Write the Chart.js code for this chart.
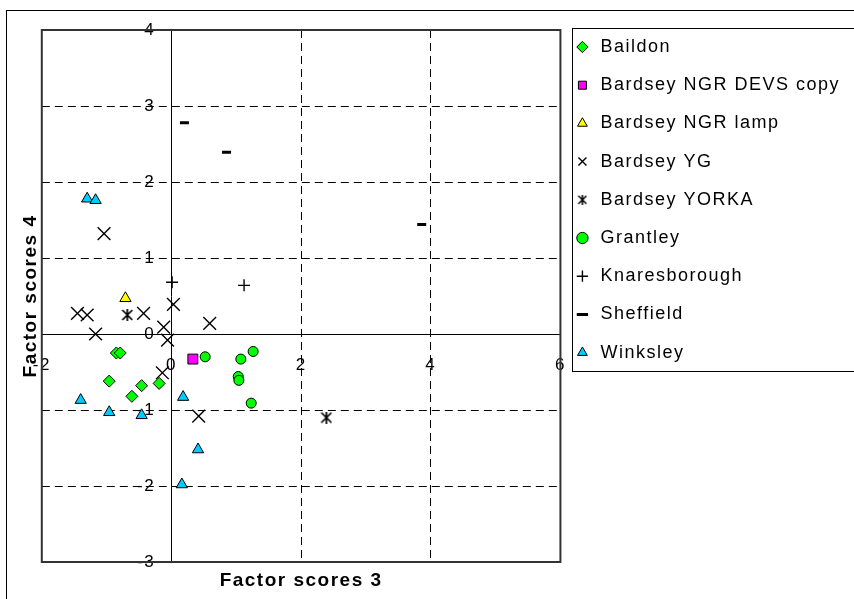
<!DOCTYPE html>
<html>
<head>
<meta charset="utf-8">
<script src="https://cdn.jsdelivr.net/npm/chart.js@4.4.1/dist/chart.umd.min.js"></script>
<style>
  html, body { margin: 0; padding: 0; background: #fff; }
  canvas { display: block; }
</style>
</head>
<body>
<canvas id="scoreChart" width="854" height="599"></canvas>
<script>
// factor scores per site, [score 3, score 4]
const seriesNames = ['Baildon', 'Bardsey NGR DEVS copy', 'Bardsey NGR lamp', 'Bardsey YG',
  'Bardsey YORKA', 'Grantley', 'Knaresborough', 'Sheffield', 'Winksley'];

const baildon = [[-0.85, -0.25], [-0.79, -0.25], [-0.96, -0.62], [-0.46, -0.68], [-0.19, -0.65], [-0.61, -0.82]];
const devsCopy = [[0.33, -0.33]];
const ngrLamp = [[-0.71, 0.47]];
const bardseyYG = [[-1.04, 1.32], [-1.45, 0.27], [-1.30, 0.25], [-1.17, 0.0], [-0.43, 0.27], [0.03, 0.39],
  [-0.12, 0.09], [-0.06, -0.08], [0.59, 0.14], [-0.14, -0.51], [0.42, -1.08]];
const yorka = [[-0.68, 0.25], [2.39, -1.10]];
const grantley = [[0.52, -0.30], [1.07, -0.33], [1.26, -0.23], [1.03, -0.56], [1.04, -0.61], [1.23, -0.91]];
const knaresborough = [[0.01, 0.68], [1.12, 0.64]];
const sheffield = [[0.20, 2.78], [0.85, 2.39], [3.86, 1.44]];
const winksley = [[-1.30, 1.78], [-1.17, 1.76], [-1.40, -0.87], [-0.96, -1.03], [-0.46, -1.07], [0.18, -0.83],
  [0.41, -1.52], [0.16, -1.98]];

const xTicks = [-2, 0, 2, 4, 6];
const yTicks = [-3, -2, -1, 0, 1, 2, 3, 4];

Chart.defaults.font.family = "'Liberation Sans', Arial, sans-serif";
Chart.defaults.color = '#000';

// asterisk marker: an X with a vertical bar through it
function asterisk(size, lw) {
  const c = document.createElement('canvas');
  c.width = size; c.height = size;
  const g = c.getContext('2d');
  g.strokeStyle = '#000';
  g.lineWidth = lw;
  const m = 1, h = size / 2;
  g.beginPath();
  g.moveTo(m, m); g.lineTo(size - m, size - m);
  g.moveTo(size - m, m); g.lineTo(m, size - m);
  g.moveTo(h, 0); g.lineTo(h, size);
  g.stroke();
  return c;
}
const starBig = asterisk(12, 1.7);
const starSmall = asterisk(10, 1.5);

const toPoints = arr => arr.map(p => ({ x: p[0], y: p[1] }));

const markers = [
  { data: baildon, pointStyle: 'rectRot', radius: 6, bg: '#00ff00', bw: 1 },
  { data: devsCopy, pointStyle: 'rect', radius: 7, bg: '#ff00ff', bw: 1 },
  { data: ngrLamp, pointStyle: 'triangle', radius: 6.5, bg: '#ffff00', bw: 1 },
  { data: bardseyYG, pointStyle: 'crossRot', radius: 9, bg: '#000', bw: 1.4 },
  { data: yorka, pointStyle: starBig, radius: 6, bg: '#000', bw: 1.4 },
  { data: grantley, pointStyle: 'circle', radius: 5, bg: '#00ff00', bw: 1 },
  { data: knaresborough, pointStyle: 'cross', radius: 6, bg: '#000', bw: 1.4 },
  { data: sheffield, pointStyle: 'line', radius: 4.5, bg: '#000', bw: 3 },
  { data: winksley, pointStyle: 'triangle', radius: 6.5, bg: '#00ccff', bw: 1 }
];

const datasets = markers.map((m, i) => ({
  label: seriesNames[i],
  data: toPoints(m.data),
  pointStyle: m.pointStyle,
  pointRadius: m.radius,
  pointHoverRadius: m.radius,
  backgroundColor: m.bg,
  borderColor: '#000',
  borderWidth: m.bw,
  pointBorderWidth: m.bw
}));

const gridColor = c => {
  const v = c.tick.value;
  return (v === 0 || v === c.scale.min || v === c.scale.max) ? 'rgba(0,0,0,0)' : '#000';
};

// wider glyph spacing, closer to the spreadsheet rendering
const spacing = {
  id: 'spacing',
  beforeUpdate(chart) { chart.ctx.letterSpacing = '1.5px'; },
  beforeDraw(chart) { chart.ctx.letterSpacing = '1.5px'; }
};

// outer frame, plot box and legend box
const frames = {
  id: 'frames',
  beforeDraw(chart) {
    const ctx = chart.ctx;
    ctx.save();
    ctx.strokeStyle = '#000';
    ctx.lineWidth = 1;
    ctx.strokeRect(6.5, 10.5, chart.width + 20, chart.height + 20);
    ctx.restore();
  },
  beforeDatasetsDraw(chart) {
    const { ctx, chartArea: a, legend } = chart;
    ctx.save();
    ctx.strokeStyle = '#333';
    ctx.lineWidth = 2;
    ctx.strokeRect(a.left, a.top, a.right - a.left, a.bottom - a.top);
    ctx.lineWidth = 1;
    ctx.strokeStyle = '#000';
    const lx = Math.round(legend.left + 12) + 0.5;
    const ly = Math.round(legend.top + 3) + 0.5;
    ctx.strokeRect(lx, ly, chart.width, 343);
    ctx.restore();
  }
};

new Chart(document.getElementById('scoreChart'), {
  type: 'scatter',
  data: { datasets },
  options: {
    responsive: false,
    animation: false,
    layout: { padding: { top: 25, left: 7, right: 4, bottom: 0 } },
    scales: {
      x: {
        type: 'linear',
        position: { y: 0 },
        min: xTicks[0],
        max: xTicks[xTicks.length - 1],
        afterBuildTicks: s => { s.ticks = xTicks.map(v => ({ value: v })); },
        ticks: { padding: 21, font: { size: 17 }, color: '#000' },
        grid: { color: gridColor, drawTicks: false, lineWidth: 1 },
        border: { display: true, color: '#000', width: 1, dash: [8, 5] }
      },
      y: {
        type: 'linear',
        position: { x: 0 },
        min: yTicks[0],
        max: yTicks[yTicks.length - 1],
        afterBuildTicks: s => { s.ticks = yTicks.map(v => ({ value: v })); },
        // labels of a centred axis sit right-aligned on the axis line, so pad them with spaces
        ticks: { font: { size: 17 }, color: '#000', callback: v => v + '\u2002 ' },
        grid: { color: gridColor, drawTicks: false, lineWidth: 1 },
        border: { display: true, color: '#000', width: 1, dash: [8, 5] }
      },
      // thin spacer above the plot so the legend box sits a little higher
      xTop: {
        type: 'linear',
        position: 'top',
        min: xTicks[0],
        max: xTicks[xTicks.length - 1],
        ticks: { display: false },
        grid: { display: false, drawTicks: false },
        border: { display: false },
        afterFit: s => { s.height = 5; }
      }
    },
    plugins: {
      tooltip: { enabled: false },
      title: {
        display: true,
        text: 'Factor scores 3',
        position: 'bottom',
        fullSize: false,
        font: { size: 19, weight: 'bold' },
        padding: { top: 7, bottom: 7.2 }
      },
      subtitle: {
        display: true,
        text: 'Factor scores 4',
        position: 'left',
        fullSize: false,
        font: { size: 19, weight: 'bold' },
        padding: { top: 12, bottom: 0 }
      },
      legend: {
        position: 'right',
        align: 'start',
        maxWidth: 294,
        labels: {
          usePointStyle: true,
          boxWidth: 18,
          boxHeight: 8,
          padding: 13,
          color: '#000',
          font: { size: 18, lineHeight: 1.4 },
          generateLabels(chart) {
            const items = Chart.defaults.plugins.legend.labels.generateLabels(chart);
            return items.map(it => ({
              ...it,
              text: [it.text],
              pointStyle: it.pointStyle === starBig ? starSmall : it.pointStyle
            }));
          }
        }
      }
    }
  },
  plugins: [spacing, frames]
});
</script>
</body>
</html>
